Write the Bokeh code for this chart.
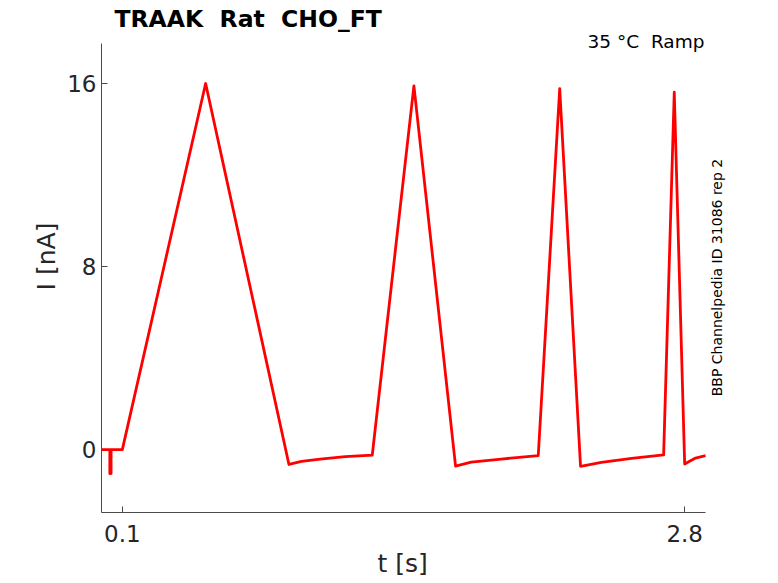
from bokeh.plotting import figure
from bokeh.models import Range1d, FixedTicker, Label, Title
from bokeh.embed import file_html
from bokeh.resources import INLINE

# ---- data ----
t_s = [0.000, 0.040, 0.040, 0.046, 0.046, 0.100,
       0.500, 0.900, 0.960, 1.050, 1.170, 1.300,
       1.500, 1.700, 1.775, 1.919, 2.097,
       2.200, 2.300, 2.400, 2.545, 2.699,
       2.750, 2.800, 2.852, 2.900]
i_na = [0.00, 0.00, -1.05, -1.05, 0.00, 0.00,
        16.00, -0.65, -0.52, -0.42, -0.31, -0.24,
        15.90, -0.72, -0.55, -0.415, -0.26,
        15.78, -0.73, -0.555, -0.38, -0.23,
        15.62, -0.63, -0.37, -0.26]

x_ticks = [0.1, 2.8]
y_ticks = [0, 8, 16]
x_axis_span = (0.0, 2.9)
y_axis_span = (-2.75, 17.75)

title_text = "TRAAK\u00a0 Rat\u00a0 CHO_FT"
cond_text = "35 °C\u00a0 Ramp"
side_text = "BBP Channelpedia ID 31086 rep 2"
x_label = "t [s]"
y_label = "I [nA]"

FONT = "DejaVu Sans"
AX = "#262626"

# frame extends to the right and top edges so that the annotation texts
# (which lie outside the axes box) are not clipped; axis lines are bounded.
p = figure(width=778, height=583, output_backend="svg", toolbar_location=None,
           x_range=Range1d(0.0, 3.2505), y_range=Range1d(-2.75, 19.63),
           min_border_left=101, min_border_right=0, min_border_top=0,
           min_border_bottom=71)

p.line(t_s, i_na, line_color="#ff0000", line_width=2.8, line_join="round")

p.outline_line_color = None
p.xgrid.visible = False
p.ygrid.visible = False
p.background_fill_color = "white"
p.border_fill_color = "white"

for ax in (p.xaxis[0], p.yaxis[0]):
    ax.axis_line_color = "#4a4a4a"
    ax.axis_line_width = 1
    ax.major_tick_in = 6
    ax.major_tick_out = 0
    ax.major_tick_line_color = "#4a4a4a"
    ax.minor_tick_line_color = None
    ax.major_label_text_font = FONT
    ax.major_label_text_font_size = "23px"
    ax.major_label_text_color = AX
    ax.axis_label_text_font = FONT
    ax.axis_label_text_font_size = "25px"
    ax.axis_label_text_font_style = "normal"
    ax.axis_label_text_color = AX

p.xaxis.bounds = x_axis_span
p.yaxis.bounds = y_axis_span
p.xaxis.ticker = FixedTicker(ticks=x_ticks)
p.yaxis.ticker = FixedTicker(ticks=y_ticks)
p.yaxis.axis_label = y_label
p.xaxis.major_label_standoff = 12
p.yaxis.major_label_standoff = 5
p.yaxis.axis_label_standoff = 3

# x-axis label as a left-aligned title below, so it centres under the axes box
p.add_layout(Title(text=x_label, align="left", offset=276, standoff=5,
                   text_font=FONT, text_font_size="25px",
                   text_font_style="normal", text_color=AX), "below")

p.add_layout(Label(x=0.0624, y=18.84, text=title_text, text_font=FONT,
                   text_font_size="23.5px", text_font_style="bold",
                   text_color="black", text_baseline="middle", text_align="left"))
p.add_layout(Label(x=2.895, y=17.84, text=cond_text, text_font=FONT,
                   text_font_size="18.5px", text_color="black",
                   text_baseline="middle", text_align="right"))
p.add_layout(Label(x=2.953, y=7.52, text=side_text, text_font=FONT,
                   text_font_size="14px", text_color="black", angle=1.5708,
                   text_baseline="middle", text_align="center"))

open("out.html", "w").write(file_html(p, INLINE))
